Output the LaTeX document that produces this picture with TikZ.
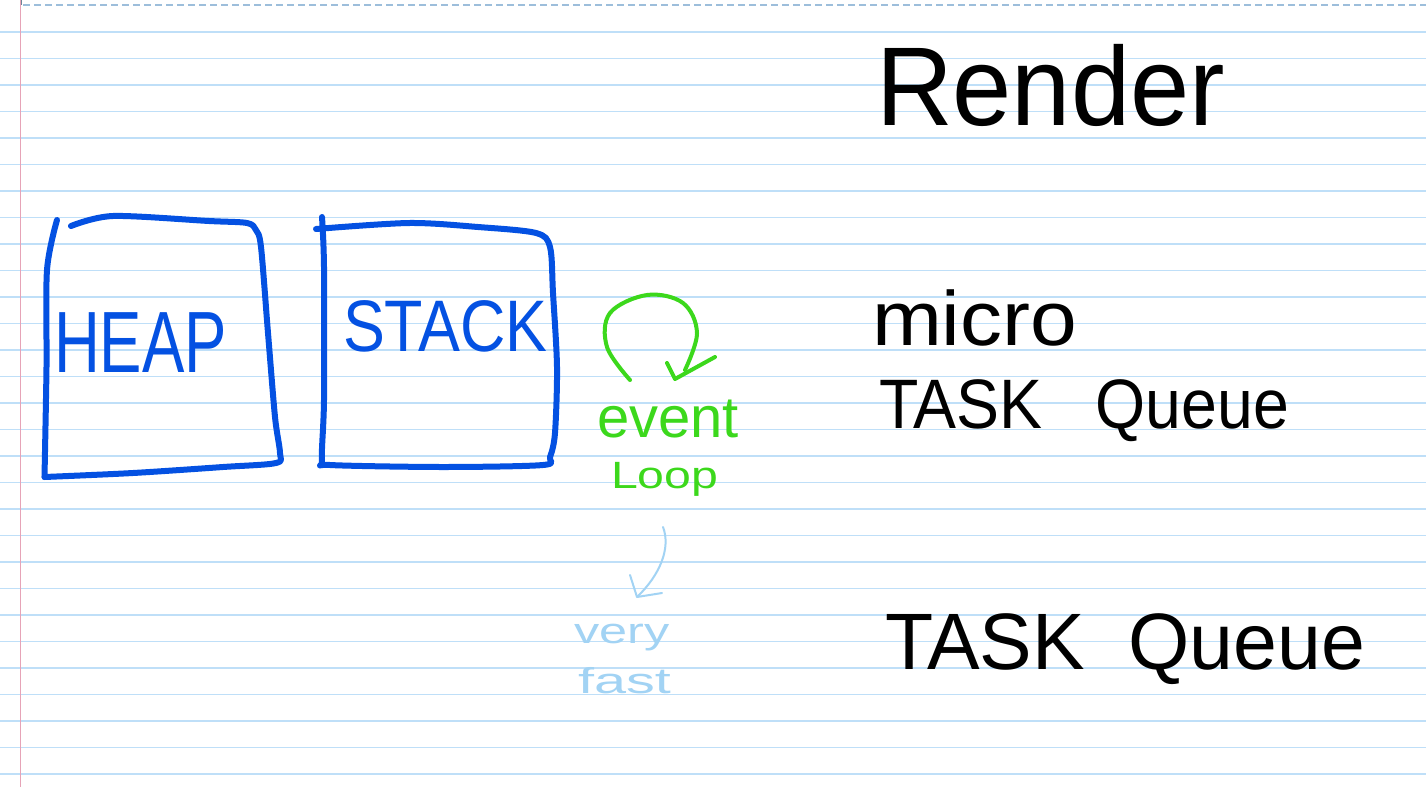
\documentclass[tikz,border=0pt]{standalone}
\usepackage{fontspec}
\setmainfont{Liberation Sans}
\definecolor{ruleblue}{HTML}{BFDFF8}
\definecolor{topdash}{HTML}{9DBEDB}
\definecolor{marginpink}{HTML}{E6A3B7}
\definecolor{inkblue}{HTML}{0451E2}
\definecolor{inkgreen}{HTML}{3CD81C}
\definecolor{inklight}{HTML}{A2D3F4}
\tikzset{
  ruled/.style={draw=ruleblue, line width=1.3pt},
  boxink/.style={draw=inkblue, line width=6pt, line cap=round, line join=round},
  greenink/.style={draw=inkgreen, line width=4pt, line cap=round, line join=round},
  lightink/.style={draw=inklight, line width=2pt, line cap=round, line join=round},
  lbl/.style={anchor=base west, inner sep=0pt, outer sep=0pt},
}
\begin{document}
\begin{tikzpicture}[x=1pt,y=-1pt]
\useasboundingbox (0,0) rectangle (1426,787);
\fill[white] (0,0) rectangle (1426,787);
% ruled paper
\foreach \k in {1,...,29} {
  \draw[ruled] (0,{5.5+26.5*\k}) -- (1426,{5.5+26.5*\k});
}
\draw[draw=topdash, line width=2pt, dash pattern=on 7pt off 4pt] (23,5) -- (1426,5);
\draw[draw=marginpink, line width=1.6pt] (20.5,0) -- (20.5,787);
\draw[draw=topdash!70!black, line width=1.2pt] (21.5,0) -- (21.5,5);

% HEAP box
\draw[boxink] plot[smooth, tension=0.5] coordinates {(57,220) (47,270) (46.5,367) (44.5,477)};
\draw[boxink] plot[smooth, tension=0.5] coordinates {(71,226) (113,216) (209,221) (247,223) (256,230) (261,247) (268,333) (275,417) (280,453) (276,463) (223,467) (133,473) (44.5,477)};
\node[lbl, text=inkblue] (heap) at (54,372) {\fontsize{87}{87}\selectfont\scalebox{0.73}[1]{HEAP}};

% STACK box
\draw[boxink] plot[smooth, tension=0.5] coordinates {(316,229) (409,223) (478,227) (536,233) (550,247) (553,293) (557,367) (555,433) (550,457) (543,465) (443,467) (330,465) (322,460) (324,400) (324,267) (322,217)};
\node[lbl, text=inkblue] (stack) at (343,351) {\fontsize{73}{73}\selectfont\scalebox{0.86}[1]{STACK}};

% event loop
\draw[greenink] plot[smooth, tension=0.6] coordinates {(630,380) (607,347) (610,313) (647,295) (683,303) (697,333) (685,370)};
\draw[greenink] (667,363) -- (675,379) -- (715,357);
\node[lbl, text=inkgreen] (event) at (597,437) {\fontsize{58}{58}\selectfont event};
\node[lbl, text=inkgreen] (loop) at (611,488) {\fontsize{38}{38}\selectfont\scalebox{1.27}[1]{Loop}};

% very fast
\coordinate (fa1) at (663,527);
\coordinate (fa2) at (637,597);
\draw[lightink] (fa1) .. controls (671,548) and (660,575) .. (fa2);
\draw[lightink] (630,575) -- (fa2) -- (662,593);
\node[lbl, text=inklight] (very) at (574,643) {\fontsize{36}{36}\selectfont\scalebox{1.40}[1]{very}};
\node[lbl, text=inklight] (fast) at (578,693) {\fontsize{36}{36}\selectfont\scalebox{1.60}[1]{fast}};

% right column
\node[lbl] (render) at (876,125) {\fontsize{112}{112}\selectfont\scalebox{0.95}[1]{Render}};
\node[lbl] (micro) at (872,345) {\fontsize{77}{77}\selectfont\scalebox{1.09}[1]{micro}};
\node[lbl] (mtq) at (879,428) {\fontsize{70}{70}\selectfont\scalebox{0.92}[1]{TASK\hspace{58pt}Queue}};
\node[lbl] (tq) at (885,669) {\fontsize{80}{80}\selectfont\scalebox{0.985}[1]{TASK\hspace{44pt}Queue}};
\end{tikzpicture}
\end{document}
